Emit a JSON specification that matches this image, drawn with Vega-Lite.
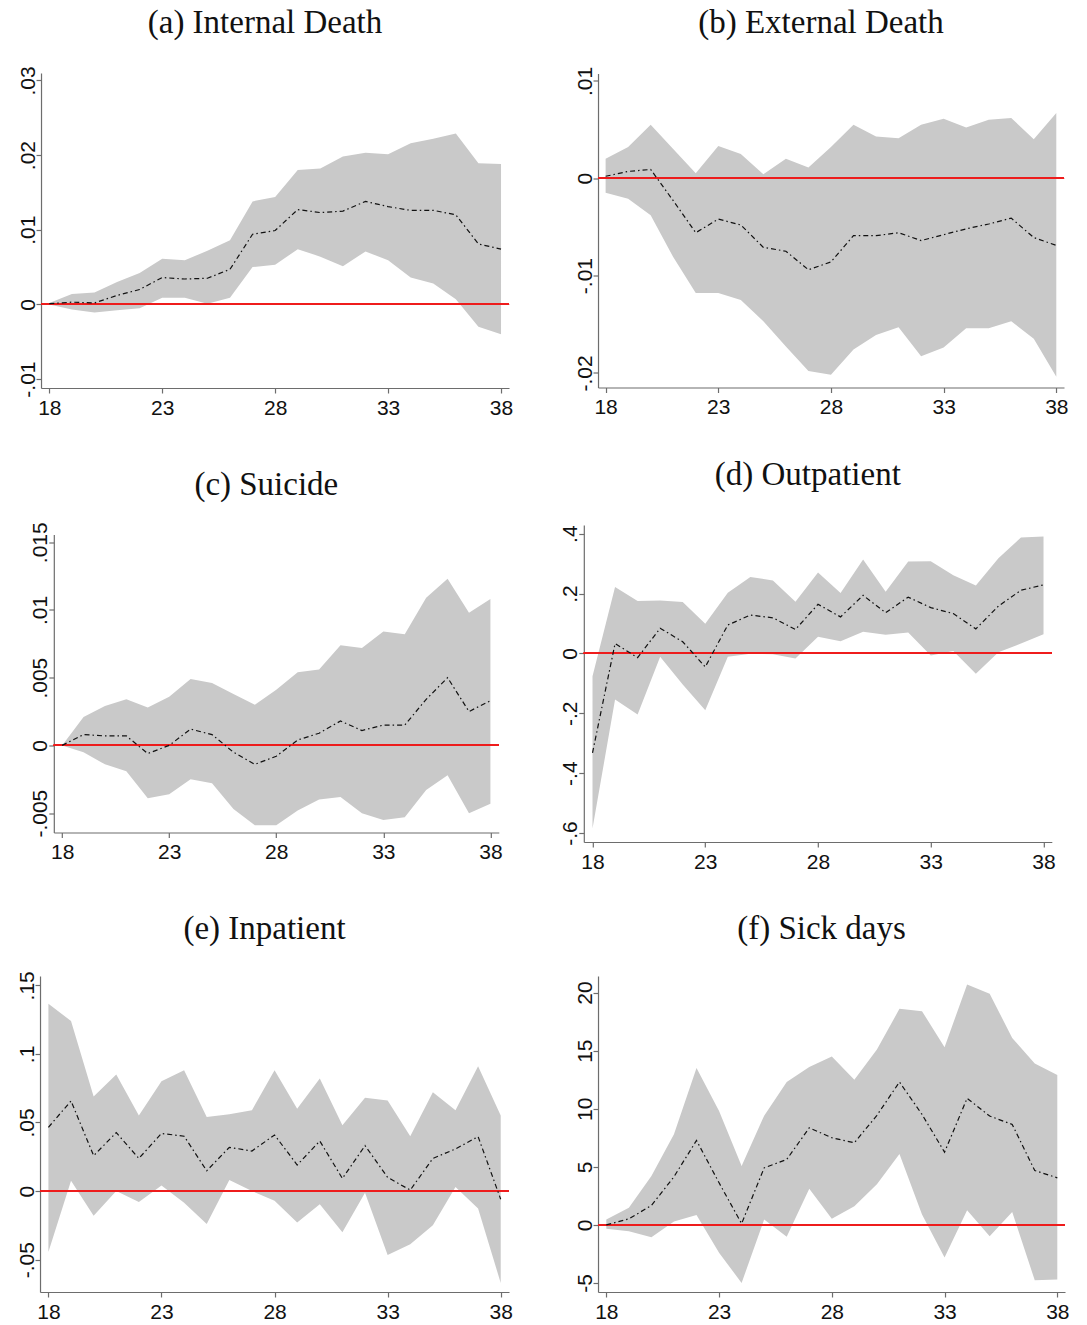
{
  "$schema": "https://vega.github.io/schema/vega-lite/v6.json",
  "padding": {"left": 16, "top": 6, "right": 0, "bottom": 0},
  "background": "white",
  "spacing": 40,
  "center": true,
  "datasets": {
    "a": [
      {"age": 18, "est": 0.0001, "lo": 0, "hi": 0.0002},
      {"age": 19, "est": 0.0003, "lo": -0.0007, "hi": 0.0014},
      {"age": 20, "est": 0.0002, "lo": -0.0011, "hi": 0.0016},
      {"age": 21, "est": 0.0012, "lo": -0.0008, "hi": 0.003},
      {"age": 22, "est": 0.002, "lo": -0.0005, "hi": 0.0042},
      {"age": 23, "est": 0.0036, "lo": 0.0009, "hi": 0.0061},
      {"age": 24, "est": 0.0034, "lo": 0.0009, "hi": 0.0059},
      {"age": 25, "est": 0.0035, "lo": 0.0001, "hi": 0.0072},
      {"age": 26, "est": 0.0047, "lo": 0.0009, "hi": 0.0086},
      {"age": 27, "est": 0.0094, "lo": 0.005, "hi": 0.0138},
      {"age": 28, "est": 0.0099, "lo": 0.0053, "hi": 0.0144},
      {"age": 29, "est": 0.0127, "lo": 0.0074, "hi": 0.018},
      {"age": 30, "est": 0.0123, "lo": 0.0064, "hi": 0.0182},
      {"age": 31, "est": 0.0125, "lo": 0.0051, "hi": 0.0198},
      {"age": 32, "est": 0.0138, "lo": 0.0071, "hi": 0.0203},
      {"age": 33, "est": 0.0131, "lo": 0.0059, "hi": 0.0201},
      {"age": 34, "est": 0.0126, "lo": 0.0036, "hi": 0.0216},
      {"age": 35, "est": 0.0126, "lo": 0.0028, "hi": 0.0222},
      {"age": 36, "est": 0.012, "lo": 0.0007, "hi": 0.0229},
      {"age": 37, "est": 0.0081, "lo": -0.003, "hi": 0.0189},
      {"age": 38, "est": 0.0074, "lo": -0.004, "hi": 0.0188}
    ],
    "b": [
      {"age": 18, "est": 0.0002, "lo": -0.0015, "hi": 0.002},
      {"age": 19, "est": 0.0007, "lo": -0.0021, "hi": 0.0032},
      {"age": 20, "est": 0.0009, "lo": -0.0038, "hi": 0.0055},
      {"age": 21, "est": -0.0023, "lo": -0.0081, "hi": 0.003},
      {"age": 22, "est": -0.0056, "lo": -0.0118, "hi": 0.0005},
      {"age": 23, "est": -0.0042, "lo": -0.0118, "hi": 0.0033},
      {"age": 24, "est": -0.0048, "lo": -0.0125, "hi": 0.0025},
      {"age": 25, "est": -0.0071, "lo": -0.0147, "hi": 0.0004},
      {"age": 26, "est": -0.0075, "lo": -0.0173, "hi": 0.002},
      {"age": 27, "est": -0.0094, "lo": -0.0198, "hi": 0.0011},
      {"age": 28, "est": -0.0086, "lo": -0.0202, "hi": 0.0032},
      {"age": 29, "est": -0.0059, "lo": -0.0176, "hi": 0.0055},
      {"age": 30, "est": -0.0059, "lo": -0.0161, "hi": 0.0043},
      {"age": 31, "est": -0.0056, "lo": -0.0153, "hi": 0.0041},
      {"age": 32, "est": -0.0064, "lo": -0.0183, "hi": 0.0055},
      {"age": 33, "est": -0.0058, "lo": -0.0174, "hi": 0.0061},
      {"age": 34, "est": -0.0052, "lo": -0.0154, "hi": 0.0052},
      {"age": 35, "est": -0.0047, "lo": -0.0154, "hi": 0.006},
      {"age": 36, "est": -0.0041, "lo": -0.0147, "hi": 0.0062},
      {"age": 37, "est": -0.0061, "lo": -0.0165, "hi": 0.004},
      {"age": 38, "est": -0.0069, "lo": -0.0204, "hi": 0.0067}
    ],
    "c": [
      {"age": 18, "est": 0, "lo": 0, "hi": 0},
      {"age": 19, "est": 0.0008, "lo": -0.0005, "hi": 0.0021},
      {"age": 20, "est": 0.0007, "lo": -0.0014, "hi": 0.0029},
      {"age": 21, "est": 0.0007, "lo": -0.0019, "hi": 0.0034},
      {"age": 22, "est": -0.0006, "lo": -0.0039, "hi": 0.0028},
      {"age": 23, "est": 0, "lo": -0.0036, "hi": 0.0036},
      {"age": 24, "est": 0.0012, "lo": -0.0025, "hi": 0.0049},
      {"age": 25, "est": 0.0008, "lo": -0.0028, "hi": 0.0046},
      {"age": 26, "est": -0.0005, "lo": -0.0047, "hi": 0.0038},
      {"age": 27, "est": -0.0014, "lo": -0.0059, "hi": 0.003},
      {"age": 28, "est": -0.0008, "lo": -0.0059, "hi": 0.0041},
      {"age": 29, "est": 0.0004, "lo": -0.0048, "hi": 0.0054},
      {"age": 30, "est": 0.0009, "lo": -0.004, "hi": 0.0056},
      {"age": 31, "est": 0.0018, "lo": -0.0038, "hi": 0.0074},
      {"age": 32, "est": 0.0011, "lo": -0.005, "hi": 0.0072},
      {"age": 33, "est": 0.0015, "lo": -0.0055, "hi": 0.0084},
      {"age": 34, "est": 0.0015, "lo": -0.0053, "hi": 0.0082},
      {"age": 35, "est": 0.0034, "lo": -0.0033, "hi": 0.0109},
      {"age": 36, "est": 0.005, "lo": -0.0022, "hi": 0.0123},
      {"age": 37, "est": 0.0025, "lo": -0.005, "hi": 0.0098},
      {"age": 38, "est": 0.0033, "lo": -0.0043, "hi": 0.0108}
    ],
    "d": [
      {"age": 18, "est": -0.332, "lo": -0.585, "hi": -0.076},
      {"age": 19, "est": 0.033, "lo": -0.154, "hi": 0.222},
      {"age": 20, "est": -0.014, "lo": -0.204, "hi": 0.175},
      {"age": 21, "est": 0.084, "lo": -0.011, "hi": 0.177},
      {"age": 22, "est": 0.039, "lo": -0.104, "hi": 0.172},
      {"age": 23, "est": -0.045, "lo": -0.19, "hi": 0.099},
      {"age": 24, "est": 0.095, "lo": -0.011, "hi": 0.203},
      {"age": 25, "est": 0.128, "lo": -0.001, "hi": 0.255},
      {"age": 26, "est": 0.119, "lo": -0.003, "hi": 0.244},
      {"age": 27, "est": 0.08, "lo": -0.017, "hi": 0.173},
      {"age": 28, "est": 0.164, "lo": 0.056, "hi": 0.27},
      {"age": 29, "est": 0.122, "lo": 0.041, "hi": 0.202},
      {"age": 30, "est": 0.194, "lo": 0.072, "hi": 0.314},
      {"age": 31, "est": 0.136, "lo": 0.062, "hi": 0.206},
      {"age": 32, "est": 0.188, "lo": 0.07, "hi": 0.307},
      {"age": 33, "est": 0.153, "lo": -0.007, "hi": 0.308},
      {"age": 34, "est": 0.133, "lo": 0.008, "hi": 0.261},
      {"age": 35, "est": 0.082, "lo": -0.068, "hi": 0.227},
      {"age": 36, "est": 0.158, "lo": 0.004, "hi": 0.318},
      {"age": 37, "est": 0.211, "lo": 0.033, "hi": 0.387},
      {"age": 38, "est": 0.229, "lo": 0.064, "hi": 0.391}
    ],
    "e": [
      {"age": 18, "est": 0.0465, "lo": -0.0445, "hi": 0.1365},
      {"age": 19, "est": 0.0657, "lo": 0.0075, "hi": 0.124},
      {"age": 20, "est": 0.0258, "lo": -0.018, "hi": 0.069},
      {"age": 21, "est": 0.0426, "lo": 0, "hi": 0.085},
      {"age": 22, "est": 0.0238, "lo": -0.008, "hi": 0.055},
      {"age": 23, "est": 0.042, "lo": 0.004, "hi": 0.08},
      {"age": 24, "est": 0.04, "lo": -0.0085, "hi": 0.088},
      {"age": 25, "est": 0.0148, "lo": -0.024, "hi": 0.054},
      {"age": 26, "est": 0.0319, "lo": 0.008, "hi": 0.056},
      {"age": 27, "est": 0.0292, "lo": 0, "hi": 0.059},
      {"age": 28, "est": 0.0409, "lo": -0.007, "hi": 0.088},
      {"age": 29, "est": 0.019, "lo": -0.023, "hi": 0.06},
      {"age": 30, "est": 0.0365, "lo": -0.0097, "hi": 0.082},
      {"age": 31, "est": 0.0092, "lo": -0.03, "hi": 0.048},
      {"age": 32, "est": 0.0331, "lo": -0.0012, "hi": 0.068},
      {"age": 33, "est": 0.01, "lo": -0.0467, "hi": 0.066},
      {"age": 34, "est": 0.0007, "lo": -0.0387, "hi": 0.04},
      {"age": 35, "est": 0.0238, "lo": -0.025, "hi": 0.072},
      {"age": 36, "est": 0.0307, "lo": 0.003, "hi": 0.059},
      {"age": 37, "est": 0.0397, "lo": -0.0127, "hi": 0.091},
      {"age": 38, "est": -0.006, "lo": -0.067, "hi": 0.055}
    ],
    "f": [
      {"age": 18, "est": 0, "lo": -0.34, "hi": 0.46},
      {"age": 19, "est": 0.52, "lo": -0.55, "hi": 1.47},
      {"age": 20, "est": 1.67, "lo": -1.06, "hi": 4.2},
      {"age": 21, "est": 4.14, "lo": 0.29, "hi": 7.8},
      {"age": 22, "est": 7.27, "lo": 0.86, "hi": 13.5},
      {"age": 23, "est": 3.62, "lo": -2.4, "hi": 9.8},
      {"age": 24, "est": 0.11, "lo": -5.0, "hi": 5.06},
      {"age": 25, "est": 4.91, "lo": 0.46, "hi": 9.4},
      {"age": 26, "est": 5.63, "lo": -1.03, "hi": 12.3},
      {"age": 27, "est": 8.36, "lo": 3.1, "hi": 13.6},
      {"age": 28, "est": 7.5, "lo": 0.52, "hi": 14.5},
      {"age": 29, "est": 7.07, "lo": 1.6, "hi": 12.5},
      {"age": 30, "est": 9.43, "lo": 3.5, "hi": 15.1},
      {"age": 31, "est": 12.3, "lo": 6.1, "hi": 18.6},
      {"age": 32, "est": 9.51, "lo": 0.9, "hi": 18.4},
      {"age": 33, "est": 6.26, "lo": -2.8, "hi": 15.3},
      {"age": 34, "est": 10.9, "lo": 1.26, "hi": 20.7},
      {"age": 35, "est": 9.37, "lo": -0.98, "hi": 19.9},
      {"age": 36, "est": 8.65, "lo": 1.1, "hi": 16.1},
      {"age": 37, "est": 4.68, "lo": -4.77, "hi": 13.9},
      {"age": 38, "est": 4.05, "lo": -4.71, "hi": 12.9}
    ]
  },
  "vconcat": [
    {
      "hconcat": [
        {
          "title": {"text": "(a) Internal Death", "offset": 26},
          "width": 468, "height": 315,
          "data": {"name": "a"},
          "encoding": {
            "x": {"field": "age", "type": "quantitative", "scale": {"domain": [17.633, 38.354], "nice": false, "zero": false}, "axis": {"values": [18, 23, 28, 33, 38], "title": null, "format": "d"}}
          },
          "layer": [
            {"mark": {"type": "area", "color": "#c9c9c9"}, "encoding": {"y": {"field": "lo", "type": "quantitative", "scale": {"domain": [-0.0112, 0.031], "nice": false, "zero": false}, "axis": {"values": [-0.01, 0, 0.01, 0.02, 0.03], "title": null, "labelExpr": "replace(toString(datum.value), '0.', '.')"}}, "y2": {"field": "hi"}}},
            {"mark": {"type": "rule", "color": "#ee1c1c", "strokeWidth": 1.4}, "encoding": {"y": {"datum": 0}, "x": null}},
            {"mark": {"type": "line", "color": "#111", "strokeWidth": 1.2, "strokeDash": [5, 3, 1.5, 3]}, "encoding": {"y": {"field": "est", "type": "quantitative"}}}
          ]
        },
        {
          "title": {"text": "(b) External Death", "offset": 26},
          "width": 466, "height": 314,
          "data": {"name": "b"},
          "encoding": {
            "x": {"field": "age", "type": "quantitative", "scale": {"domain": [17.663, 38.342], "nice": false, "zero": false}, "axis": {"values": [18, 23, 28, 33, 38], "title": null, "format": "d"}}
          },
          "layer": [
            {"mark": {"type": "area", "color": "#c9c9c9"}, "encoding": {"y": {"field": "lo", "type": "quantitative", "scale": {"domain": [-0.0215, 0.01076], "nice": false, "zero": false}, "axis": {"values": [-0.02, -0.01, 0, 0.01], "title": null, "labelExpr": "replace(toString(datum.value), '0.', '.')"}}, "y2": {"field": "hi"}}},
            {"mark": {"type": "rule", "color": "#ee1c1c", "strokeWidth": 1.4}, "encoding": {"y": {"datum": 0}, "x": null}},
            {"mark": {"type": "line", "color": "#111", "strokeWidth": 1.2, "strokeDash": [5, 3, 1.5, 3]}, "encoding": {"y": {"field": "est", "type": "quantitative"}}}
          ]
        }
      ],
      "spacing": 61,
      "center": true
    },
    {
      "hconcat": [
        {
          "title": {"text": "(c) Suicide", "offset": 20},
          "width": 445, "height": 298,
          "data": {"name": "c"},
          "encoding": {
            "x": {"field": "age", "type": "quantitative", "scale": {"domain": [17.612, 38.392], "nice": false, "zero": false}, "axis": {"values": [18, 23, 28, 33, 38], "title": null, "format": "d"}}
          },
          "layer": [
            {"mark": {"type": "area", "color": "#c9c9c9"}, "encoding": {"y": {"field": "lo", "type": "quantitative", "scale": {"domain": [-0.00643, 0.01557], "nice": false, "zero": false}, "axis": {"values": [-0.005, 0, 0.005, 0.01, 0.015], "title": null, "labelExpr": "replace(toString(datum.value), '0.', '.')"}}, "y2": {"field": "hi"}}},
            {"mark": {"type": "rule", "color": "#ee1c1c", "strokeWidth": 1.4}, "encoding": {"y": {"datum": 0}, "x": null}},
            {"mark": {"type": "line", "color": "#111", "strokeWidth": 1.2, "strokeDash": [5, 3, 1.5, 3]}, "encoding": {"y": {"field": "est", "type": "quantitative"}}}
          ]
        },
        {
          "title": {"text": "(d) Outpatient", "offset": 33},
          "width": 468, "height": 317,
          "data": {"name": "d"},
          "encoding": {
            "x": {"field": "age", "type": "quantitative", "scale": {"domain": [17.614, 38.368], "nice": false, "zero": false}, "axis": {"values": [18, 23, 28, 33, 38], "title": null, "format": "d"}}
          },
          "layer": [
            {"mark": {"type": "area", "color": "#c9c9c9"}, "encoding": {"y": {"field": "lo", "type": "quantitative", "scale": {"domain": [-0.63, 0.429], "nice": false, "zero": false}, "axis": {"values": [-0.6, -0.4, -0.2, 0, 0.2, 0.4], "title": null, "labelExpr": "replace(toString(datum.value), '0.', '.')"}}, "y2": {"field": "hi"}}},
            {"mark": {"type": "rule", "color": "#ee1c1c", "strokeWidth": 1.4}, "encoding": {"y": {"datum": 0}, "x": null}},
            {"mark": {"type": "line", "color": "#111", "strokeWidth": 1.2, "strokeDash": [5, 3, 1.5, 3]}, "encoding": {"y": {"field": "est", "type": "quantitative"}}}
          ]
        }
      ],
      "spacing": 57,
      "center": true
    },
    {
      "hconcat": [
        {
          "title": {"text": "(e) Inpatient", "offset": 25},
          "width": 469, "height": 316,
          "data": {"name": "e"},
          "encoding": {
            "x": {"field": "age", "type": "quantitative", "scale": {"domain": [17.629, 38.367], "nice": false, "zero": false}, "axis": {"values": [18, 23, 28, 33, 38], "title": null, "format": "d"}}
          },
          "layer": [
            {"mark": {"type": "area", "color": "#c9c9c9"}, "encoding": {"y": {"field": "lo", "type": "quantitative", "scale": {"domain": [-0.0736, 0.1568], "nice": false, "zero": false}, "axis": {"values": [-0.05, 0, 0.05, 0.1, 0.15], "title": null, "labelExpr": "replace(toString(datum.value), '0.', '.')"}}, "y2": {"field": "hi"}}},
            {"mark": {"type": "rule", "color": "#ee1c1c", "strokeWidth": 1.4}, "encoding": {"y": {"datum": 0}, "x": null}},
            {"mark": {"type": "line", "color": "#111", "strokeWidth": 1.2, "strokeDash": [5, 3, 1.5, 3]}, "encoding": {"y": {"field": "est", "type": "quantitative"}}}
          ]
        },
        {
          "title": {"text": "(f) Sick days", "offset": 30},
          "width": 467, "height": 316,
          "data": {"name": "f"},
          "encoding": {
            "x": {"field": "age", "type": "quantitative", "scale": {"domain": [17.632, 38.342], "nice": false, "zero": false}, "axis": {"values": [18, 23, 28, 33, 38], "title": null, "format": "d"}}
          },
          "layer": [
            {"mark": {"type": "area", "color": "#c9c9c9"}, "encoding": {"y": {"field": "lo", "type": "quantitative", "scale": {"domain": [-5.78, 21.43], "nice": false, "zero": false}, "axis": {"values": [-5, 0, 5, 10, 15, 20], "title": null, "labelExpr": "replace(toString(datum.value), '0.', '.')"}}, "y2": {"field": "hi"}}},
            {"mark": {"type": "rule", "color": "#ee1c1c", "strokeWidth": 1.4}, "encoding": {"y": {"datum": 0}, "x": null}},
            {"mark": {"type": "line", "color": "#111", "strokeWidth": 1.2, "strokeDash": [5, 3, 1.5, 3]}, "encoding": {"y": {"field": "est", "type": "quantitative"}}}
          ]
        }
      ],
      "spacing": 61,
      "center": true
    }
  ],
  "config": {
    "view": {"stroke": null},
    "axis": {
      "grid": false,
      "domainColor": "#6d6d6d",
      "tickColor": "#6d6d6d",
      "domainWidth": 1.2,
      "tickWidth": 1.2,
      "tickSize": 5,
      "labelFont": "Liberation Sans",
      "labelFontSize": 21,
      "labelColor": "#111",
      "labelFlush": false,
      "labelOverlap": false,
      "labelBound": false
    },
    "axisY": {"labelAngle": -90, "labelPadding": 2, "labelBaseline": "alphabetic"},
    "axisX": {"labelPadding": 4},
    "title": {"font": "Liberation Serif", "fontSize": 33, "fontWeight": "normal", "color": "#111", "dx": -10}
  }
}
